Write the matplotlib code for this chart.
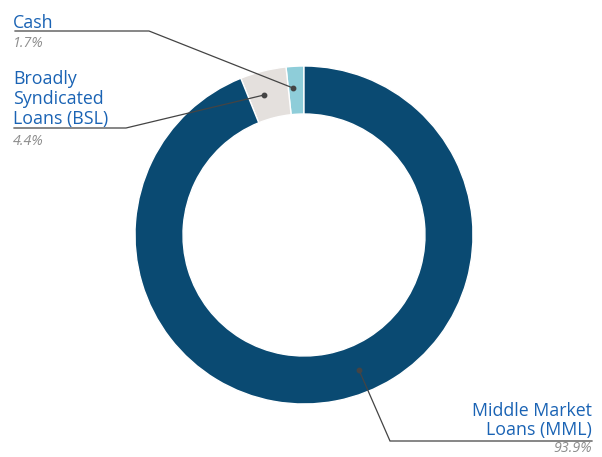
import matplotlib
matplotlib.use('Agg')
import matplotlib.pyplot as plt

# data, ordered counter-clockwise from 12 o'clock
names = ['Cash', 'Broadly\nSyndicated\nLoans (BSL)', 'Middle Market\nLoans (MML)']
shares = [1.7, 4.4, 93.9]
pct_labels = ['1.7%', '4.4%', '93.9%']
colors = ['#8ecdd9', '#e4e0dd', '#0a4a72']

W, H = 602, 457
label_blue = '#1a63b4'
pct_grey = '#8c8c8c'
line_grey = '#444444'

fig = plt.figure(figsize=(W / 100, H / 100), dpi=100)
ax = fig.add_axes([0, 0, 1, 1])

cx, cy = 304, H - 235
wedges, _ = ax.pie(shares, colors=colors, startangle=90, counterclock=True,
                   center=(cx, cy), radius=169, frame=True,
                   wedgeprops=dict(width=48, edgecolor='white', linewidth=1))
ax.set_xlim(0, W)
ax.set_ylim(0, H)
ax.set_aspect('equal')
ax.axis('off')


def py(y):
    return H - y


# leader lines: (dot, elbow, end of horizontal)
leaders = [
    ((293, 88), (149, 31), (15, 31)),
    ((264, 95), (126, 128), (14, 128)),
    ((359, 370), (390, 441), (592, 441)),
]
for dot, elbow, end in leaders:
    ax.plot([dot[0], elbow[0], end[0]], [py(dot[1]), py(elbow[1]), py(end[1])],
            color=line_grey, lw=0.9, solid_joinstyle='miter')
    ax.plot(dot[0], py(dot[1]), 'o', color=line_grey, ms=3.2)

font = 'Open Sans'
# name labels
ax.text(13, py(28), names[0], color=label_blue, fontsize=12.8, family=font,
        ha='left', va='baseline')
ax.text(13, py(124), names[1], color=label_blue, fontsize=12.8, family=font,
        ha='left', va='baseline', linespacing=1.15)
ax.text(592, py(435), names[2], color=label_blue, fontsize=12.8, family=font,
        ha='right', va='baseline', linespacing=1.1, multialignment='right')

# percentages
ax.text(13, py(47), pct_labels[0], color=pct_grey, fontsize=10.3, family=font,
        style='italic', ha='left', va='baseline')
ax.text(13, py(145), pct_labels[1], color=pct_grey, fontsize=10.3, family=font,
        style='italic', ha='left', va='baseline')
ax.text(592, py(452), pct_labels[2], color=pct_grey, fontsize=10.3, family=font,
        style='italic', ha='right', va='baseline')

fig.savefig('out.png', dpi=100)
